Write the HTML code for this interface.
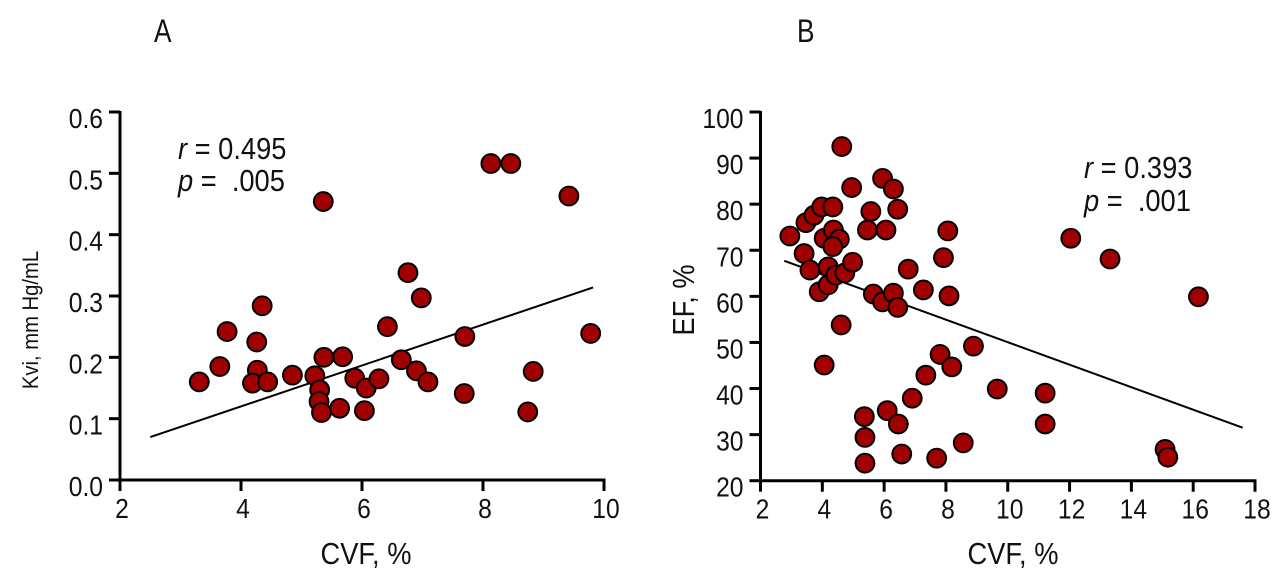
<!DOCTYPE html>
<html><head><meta charset="utf-8"><style>
html,body{margin:0;padding:0;background:#fff}
svg{display:block}
text{font-family:"Liberation Sans",sans-serif;fill:#111;white-space:pre}
</style></head><body>
<svg id="chart" width="1280" height="582" viewBox="0 0 1280 582" xmlns="http://www.w3.org/2000/svg"></svg>
<script>
// Panel A data
const aX = [3.31,3.65,3.77,4.26,4.35,4.27,4.19,4.44,4.85,5.22,5.30,5.29,5.33,5.36,5.37,5.63,5.68,5.88,6.07,6.04,6.28,6.42,6.65,6.76,6.90,6.98,7.09,7.69,7.70,8.13,8.46,8.83,8.74,9.42,9.78];
const aY = [0.160,0.185,0.242,0.225,0.284,0.179,0.158,0.160,0.171,0.170,0.147,0.128,0.110,0.454,0.200,0.117,0.201,0.166,0.150,0.113,0.165,0.250,0.196,0.338,0.178,0.297,0.160,0.141,0.234,0.516,0.516,0.177,0.111,0.463,0.239];
const aLineX = [2.50,9.82];
const aLineY = [0.070,0.314];
const aXTicks = [2,4,6,8,10];
const aYTicks = [0,0.1,0.2,0.3,0.4,0.5,0.6];
const aYTickLabels = ["0.0","0.1","0.2","0.3","0.4","0.5","0.6"];
// Panel B data
const bX = [2.95,3.41,3.47,3.73,3.98,4.34,3.60,3.90,4.06,4.36,4.55,4.34,4.19,4.19,4.44,4.73,4.98,4.63,4.95,4.61,4.06,5.57,5.46,5.95,6.30,6.44,6.06,5.65,5.95,6.30,6.44,6.78,7.27,7.92,8.06,8.10,7.81,8.19,8.89,7.35,6.91,6.10,6.46,5.36,5.38,5.38,6.57,7.70,8.56,9.66,11.21,11.21,12.04,13.31,16.17,15.09,15.18];
const bY = [73.1,69.3,76.0,77.6,79.4,79.4,65.7,61.0,72.6,74.4,72.4,70.8,66.4,62.5,64.6,65.1,67.4,92.5,83.6,53.8,45.1,78.4,74.4,85.6,83.3,78.9,74.4,60.5,58.8,60.7,57.6,65.9,61.4,68.4,74.2,60.1,47.4,44.7,49.2,42.9,37.9,35.2,32.3,33.9,29.4,23.8,25.8,24.9,28.2,39.9,39.0,32.3,72.6,68.1,59.9,26.8,25.1];
const bLineX = [2.77,17.60];
const bLineY = [67.7,31.5];
const bXTicks = [2,4,6,8,10,12,14,16,18];
const bYTicks = [20,30,40,50,60,70,80,90,100];

const NS="http://www.w3.org/2000/svg";
const svg=document.getElementById('chart');
function mk(tag,attrs,parent){const e=document.createElementNS(NS,tag);for(const k in attrs)e.setAttribute(k,attrs[k]);(parent||svg).appendChild(e);return e;}
function txt(x,y,s,size,anchor,parent,rot,sc){
  const t=mk('text',{transform:`translate(${x},${y})${rot?' rotate(-90)':''} scale(${sc||0.88},1)`,'font-size':size,'text-anchor':anchor||'start'},parent);
  t.textContent=s;return t;
}
function panel(cfg){
  const g=mk('g',{});
  
  
  const sx=v=>cfg.x0+(v-cfg.xmin)/(cfg.xmax-cfg.xmin)*(cfg.x1-cfg.x0);
  const sy=v=>cfg.y0-(v-cfg.ymin)/(cfg.ymax-cfg.ymin)*(cfg.y0-cfg.y1);
  const ya=mk('line',{x1:cfg.x0,y1:cfg.y1-1,x2:cfg.x0,y2:cfg.y0+1.5,stroke:'#000','stroke-width':3},g);
  
  
  const xa=mk('line',{x1:cfg.x0-1.5,y1:cfg.y0,x2:cfg.x1+1.5,y2:cfg.y0,stroke:'#000','stroke-width':3},g);
  
  
  cfg.xt.forEach(v=>{
    const l=mk('line',{x1:sx(v),y1:cfg.y0,x2:sx(v),y2:cfg.y0+11,stroke:'#000','stroke-width':3},g);
    
    
    const t=txt(sx(v)+2,cfg.y0+38,String(v),28,'middle',g);
    
    
  });
  cfg.yt.forEach((v,i)=>{
    const l=mk('line',{x1:cfg.x0-11,y1:sy(v),x2:cfg.x0,y2:sy(v),stroke:'#000','stroke-width':3},g);
    
    
    const t=txt(cfg.x0-17,sy(v)+16,cfg.ytl[i],28,'end',g);
    
    
  });
  const rl=mk('line',{x1:sx(cfg.lx[0]),y1:sy(cfg.ly[0]),x2:sx(cfg.lx[1]),y2:sy(cfg.ly[1]),stroke:'#000','stroke-width':2},g);
  
  
  cfg.px.forEach((v,i)=>{
    const c=mk('circle',{cx:sx(v),cy:sy(cfg.py[i]),r:9.4,fill:'#a00000',stroke:'#000','stroke-width':2},g);
    
    
  });
  return g;
}
const gA=panel({name:'panel-a',x0:120,x1:604,y0:480,y1:112,xmin:2,xmax:10,ymin:0,ymax:0.6,xt:aXTicks,yt:aYTicks,ytl:aYTickLabels,lx:aLineX,ly:aLineY,px:aX,py:aY});
const gB=panel({name:'panel-b',x0:760.5,x1:1255,y0:480.7,y1:112,xmin:2,xmax:18,ymin:20,ymax:100,xt:bXTicks,yt:bYTicks,ytl:bYTicks.map(String),lx:bLineX,ly:bLineY,px:bX,py:bY});

let t;
t=txt(154,42,'A',32,'start',null,false,0.82);


t=txt(797,42,'B',32,'start',null,false,0.82);


t=txt(366,564,'CVF, %',31,'middle');


t=txt(1013,564,'CVF, %',31,'middle');


t=txt(38,320,'Kvi, mm Hg/mL',22,'middle',null,true,0.92);


t=txt(694,300,'EF, %',31,'middle',null,true);



function stat(x,y,letter,rest){
  const e=mk('text',{transform:`translate(${x},${y}) scale(0.88,1)`,'font-size':31});
  const a=mk('tspan',{'font-style':'italic'},e);a.textContent=letter;
  const b=mk('tspan',{},e);b.textContent=rest;
  return e;
}
t=stat(178,159,'r',' = 0.495');


t=stat(178,191,'p',' =  .005');


t=stat(1084,178,'r',' = 0.393');


t=stat(1084,211,'p',' =  .001');


</script>
</body></html>
